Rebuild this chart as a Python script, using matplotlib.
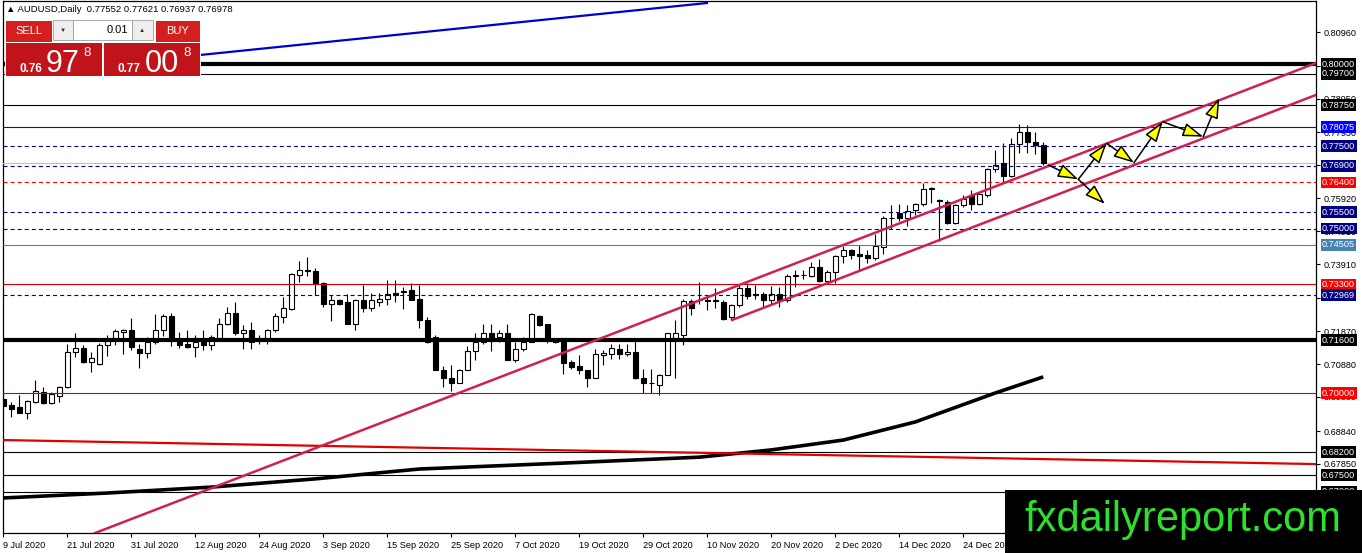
import numpy as np
import matplotlib
matplotlib.use('Agg')
import matplotlib.pyplot as plt
from matplotlib.patches import Rectangle

plt.rcParams['font.family'] = ['Liberation Sans', 'DejaVu Sans']
plt.rcParams['lines.scale_dashes'] = False

# ---- daily AUDUSD candles (bar 0 = 9 Jul 2020) ----
opens = [0.6983, 0.6963, 0.6958, 0.6940, 0.6973, 0.7003, 0.6970, 0.6991, 0.7017, 0.7125,
         0.7138, 0.7095, 0.7088, 0.7147, 0.7163, 0.7184, 0.7193, 0.7133, 0.7122, 0.7156,
         0.7191, 0.7234, 0.7156, 0.7148, 0.7140, 0.7156, 0.7147, 0.7166, 0.7209, 0.7244,
         0.7181, 0.7191, 0.7158, 0.7161, 0.7191, 0.7232, 0.7254, 0.7358, 0.7374, 0.7370,
         0.7335, 0.7272, 0.7284, 0.7277, 0.7211, 0.7282, 0.7257, 0.7277, 0.7287, 0.7304,
         0.7307, 0.7313, 0.7287, 0.7223, 0.7169, 0.7071, 0.7047, 0.7031, 0.7071, 0.7128,
         0.7156, 0.7183, 0.7169, 0.7181, 0.7100, 0.7135, 0.7155, 0.7234, 0.7209, 0.7161,
         0.7166, 0.7095, 0.7082, 0.7071, 0.7047, 0.7116, 0.7118, 0.7135, 0.7118, 0.7125,
         0.7047, 0.7029, 0.7024, 0.7054, 0.7166, 0.7176, 0.7280, 0.7282, 0.7283, 0.7283,
         0.7277, 0.7230, 0.7267, 0.7318, 0.7298, 0.7302, 0.7284, 0.7300, 0.7282, 0.7355,
         0.7358, 0.7355, 0.7384, 0.7341, 0.7368, 0.7416, 0.7436, 0.7424, 0.7418, 0.7409,
         0.7444, 0.7531, 0.7548, 0.7531, 0.7556, 0.7574, 0.7619, 0.7588, 0.7581, 0.7517,
         0.7571, 0.7602, 0.7574, 0.7602, 0.7680, 0.7700, 0.7659, 0.7757, 0.7794, 0.7764,
         0.77552]
highs = [0.6998, 0.6973, 0.6993, 0.6978, 0.7039, 0.7019, 0.7003, 0.7021, 0.7148, 0.7181,
         0.7145, 0.7125, 0.7152, 0.7176, 0.7196, 0.7196, 0.7227, 0.7150, 0.7171, 0.7240,
         0.7240, 0.7244, 0.7186, 0.7191, 0.7176, 0.7191, 0.7176, 0.7227, 0.7262, 0.7277,
         0.7206, 0.7216, 0.7176, 0.7196, 0.7242, 0.7292, 0.7365, 0.7402, 0.7414, 0.7379,
         0.7338, 0.7297, 0.7287, 0.7302, 0.7287, 0.7328, 0.7304, 0.7304, 0.7343, 0.7343,
         0.7323, 0.7335, 0.7328, 0.7231, 0.7176, 0.7082, 0.7085, 0.7074, 0.7142, 0.7181,
         0.7209, 0.7211, 0.7191, 0.7211, 0.7155, 0.7171, 0.7242, 0.7236, 0.7211, 0.7166,
         0.7166, 0.7100, 0.7115, 0.7071, 0.7135, 0.7130, 0.7150, 0.7150, 0.7150, 0.7161,
         0.7074, 0.7074, 0.7057, 0.7181, 0.7221, 0.7287, 0.7287, 0.7338, 0.7298, 0.7318,
         0.7282, 0.7272, 0.7328, 0.7333, 0.7328, 0.7307, 0.7325, 0.7323, 0.7363, 0.7373,
         0.7373, 0.7399, 0.7406, 0.7373, 0.7419, 0.7446, 0.7439, 0.7449, 0.7434, 0.7483,
         0.7538, 0.7571, 0.7576, 0.7571, 0.7578, 0.7637, 0.7627, 0.7590, 0.7586, 0.7576,
         0.7602, 0.7617, 0.7612, 0.7683, 0.7738, 0.7759, 0.7774, 0.7818, 0.7814, 0.7794,
         0.77621]
lows = [0.6953, 0.6927, 0.6938, 0.6922, 0.6970, 0.6968, 0.6966, 0.6973, 0.7014, 0.7110,
        0.7092, 0.7064, 0.7085, 0.7112, 0.7145, 0.7118, 0.7132, 0.7077, 0.7105, 0.7150,
        0.7173, 0.7142, 0.7138, 0.7138, 0.7108, 0.7130, 0.7132, 0.7161, 0.7206, 0.7176,
        0.7135, 0.7135, 0.7148, 0.7148, 0.7186, 0.7213, 0.7252, 0.7338, 0.7355, 0.7297,
        0.7260, 0.7219, 0.7267, 0.7209, 0.7191, 0.7247, 0.7250, 0.7264, 0.7267, 0.7277,
        0.7254, 0.7282, 0.7199, 0.7152, 0.7069, 0.7017, 0.7007, 0.7029, 0.7069, 0.7100,
        0.7148, 0.7128, 0.7156, 0.7100, 0.7095, 0.7128, 0.7155, 0.7204, 0.7151, 0.7151,
        0.7057, 0.7072, 0.7059, 0.7019, 0.7047, 0.7085, 0.7102, 0.7102, 0.7112, 0.7044,
        0.7001, 0.7001, 0.6993, 0.7054, 0.7047, 0.7146, 0.7237, 0.7272, 0.7252, 0.7257,
        0.7223, 0.7226, 0.7262, 0.7287, 0.7287, 0.7262, 0.7267, 0.7262, 0.7277, 0.7323,
        0.7348, 0.7353, 0.7338, 0.7338, 0.7333, 0.7396, 0.7406, 0.7373, 0.7396, 0.7404,
        0.7424, 0.7500, 0.7524, 0.7507, 0.7541, 0.7568, 0.7578, 0.7462, 0.7515, 0.7515,
        0.7566, 0.7556, 0.7571, 0.7597, 0.7673, 0.7642, 0.7657, 0.7728, 0.7728, 0.7726,
        0.76937]
closes = [0.6960, 0.6950, 0.6940, 0.6976, 0.7007, 0.6970, 0.6996, 0.7017, 0.7125, 0.7138,
          0.7095, 0.7105, 0.7147, 0.7161, 0.7188, 0.7193, 0.7140, 0.7123, 0.7156, 0.7191,
          0.7234, 0.7161, 0.7145, 0.7140, 0.7156, 0.7147, 0.7169, 0.7211, 0.7242, 0.7181,
          0.7191, 0.7156, 0.7162, 0.7193, 0.7234, 0.7257, 0.7363, 0.7374, 0.7370, 0.7335,
          0.7272, 0.7282, 0.7272, 0.7211, 0.7282, 0.7257, 0.7282, 0.7287, 0.7300, 0.7299,
          0.7311, 0.7284, 0.7221, 0.7156, 0.7071, 0.7047, 0.7029, 0.7071, 0.7128, 0.7156,
          0.7183, 0.7159, 0.7181, 0.7100, 0.7135, 0.7155, 0.7240, 0.7206, 0.7161, 0.7156,
          0.7092, 0.7080, 0.7069, 0.7047, 0.7118, 0.7121, 0.7138, 0.7118, 0.7124, 0.7047,
          0.7029, 0.7030, 0.7054, 0.7181, 0.7181, 0.7280, 0.7257, 0.7284, 0.7281, 0.7280,
          0.7226, 0.7267, 0.7318, 0.7294, 0.7302, 0.7284, 0.7300, 0.7284, 0.7355, 0.7358,
          0.7358, 0.7384, 0.7340, 0.7368, 0.7416, 0.7436, 0.7419, 0.7416, 0.7409, 0.7446,
          0.7531, 0.7533, 0.7531, 0.7554, 0.7574, 0.7619, 0.7622, 0.7585, 0.7517, 0.7571,
          0.7591, 0.7574, 0.7605, 0.7680, 0.7693, 0.7659, 0.7757, 0.7794, 0.7764, 0.7754,
          0.76978]

# x axis date labels (every 8th bar)
date_bars = [0, 8, 16, 24, 32, 40, 48, 56, 64, 72, 80, 88, 96, 104, 112, 120]
date_labels = ['9 Jul 2020', '21 Jul 2020', '31 Jul 2020', '12 Aug 2020', '24 Aug 2020',
               '3 Sep 2020', '15 Sep 2020', '25 Sep 2020', '7 Oct 2020', '19 Oct 2020',
               '29 Oct 2020', '10 Nov 2020', '20 Nov 2020', '2 Dec 2020', '14 Dec 2020',
               '24 Dec 2020']

# price scale ticks
price_ticks = [0.80960, 0.79950, 0.78950, 0.77930, 0.76920, 0.75920, 0.74910, 0.73910,
               0.72900, 0.71870, 0.70880, 0.69880, 0.68840, 0.67850, 0.66840]

# moving average (black), sampled along the curve
ma_bars = [0, 13, 26, 39, 52, 70, 87, 96, 105, 114, 124, 130]
ma_vals = [0.6681, 0.6696, 0.6714, 0.6739, 0.6769, 0.6787, 0.6805, 0.6827, 0.6857,
           0.6912, 0.7000, 0.7049]

# horizontal levels
levels = [0.80000, 0.79700, 0.78750, 0.78075, 0.77500, 0.76900, 0.76400, 0.75500,
          0.75000, 0.74505, 0.73300, 0.72969, 0.71600, 0.70000, 0.68200, 0.67500, 0.67000]
level_colors = ['black', 'black', 'black', '#0000ff', '#000080', '#000080', '#ff0000',
                '#000080', '#000080', '#4682b4', '#d00000', '#000080', 'black', '#d00000',
                'black', 'black', 'black']
level_box = ['black', 'black', 'black', '#0000ff', '#000080', '#000080', '#ff0000',
             '#000080', '#000080', '#4682b4', '#ff0000', '#000080', 'black', '#ff0000',
             'black', 'black', 'black']
level_dash = [False, False, False, False, True, True, True, True, True, False, False,
              True, False, False, False, False, False]
level_width = [3, 0.8, 0.8, 0.8, 0.8, 0.8, 0.8, 0.8, 0.8, 0.8, 0.8, 0.8, 3, 0.8, 0.8, 0.8, 0.8]
bid = 0.76978

# trend lines (bar, price) endpoints
channel_up_x, channel_up_y = [11.46, 164.1], [0.65745, 0.8003]
channel_lo_x, channel_lo_y = [91.1, 164.1], [0.7222, 0.7906]
blue_x, blue_y = [24.6, 87.96], [0.80274, 0.81854]
red_x, red_y = [0, 164.1], [0.6857, 0.6784]

# projected path arrows
path_x = [130.63, 134.38, 137.93, 141.34, 144.93, 150.0, 152.0]
path_y = [0.76930, 0.76495, 0.77590, 0.77000, 0.78246, 0.77790, 0.78967]
branch_x, branch_y = [134.38, 137.71], [0.76495, 0.75745]

W, H = 1362, 553
fig = plt.figure(figsize=(W / 100, H / 100), dpi=100)
ax = fig.add_axes([3 / W, 1 - 533 / H, (1316 - 3) / W, (533 - 1) / H])
ax.set_xlim(-0.05, 164.1)
ax.set_ylim(0.65745, 0.81915)

# levels
for p, col, dsh, lw in zip(levels, level_colors, level_dash, level_width):
    if dsh:
        ax.axhline(p, color=col, lw=lw, dashes=(2.9, 2.2), zorder=6)
    else:
        ax.axhline(p, color=col, lw=lw, zorder=6)
ax.axhline(bid, color='#c0c0c0', lw=0.8, zorder=3)

# candles
o = np.array(opens); h = np.array(highs); l = np.array(lows); c = np.array(closes)
bars = np.arange(len(o))
ax.vlines(bars, l, h, color='black', lw=0.8, zorder=4)
up = c >= o
lo = np.minimum(o, c)
hh = np.maximum(np.abs(c - o), 0.00015)
ax.bar(bars[up], hh[up], bottom=lo[up], width=0.62, color='white', edgecolor='black',
       lw=0.8, zorder=5)
ax.bar(bars[~up], hh[~up], bottom=lo[~up], width=0.62, color='black', edgecolor='black',
       lw=0.8, zorder=5)

# indicator + trendlines
ax.plot(ma_bars, ma_vals, color='black', lw=2.6, zorder=7, solid_capstyle='butt')
ax.plot(red_x, red_y, color='#e00000', lw=1.6, zorder=7)
ax.plot(channel_up_x, channel_up_y, color='#d0204e', lw=1.8, zorder=7)
ax.plot(channel_lo_x, channel_lo_y, color='#d0204e', lw=1.8, zorder=7)
ax.plot(blue_x, blue_y, color='#0000cc', lw=1.6, zorder=7)

arrow = dict(arrowstyle='-|>,head_length=1.25,head_width=0.42', fc='#ffff00', ec='black',
             lw=1.1, shrinkA=0, shrinkB=0)
for i in range(len(path_x) - 1):
    ax.annotate('', xy=(path_x[i + 1], path_y[i + 1]), xytext=(path_x[i], path_y[i]),
                arrowprops=arrow, zorder=9)
ax.annotate('', xy=(branch_x[1], branch_y[1]), xytext=(branch_x[0], branch_y[0]),
            arrowprops=arrow, zorder=9)

# axes look
for s in ax.spines.values():
    s.set_linewidth(0.9)
ax.yaxis.tick_right()
ax.set_yticks(price_ticks)
ax.set_yticklabels(['%.5f' % v for v in price_ticks])
ax.tick_params(axis='y', direction='out', length=3, width=0.8, pad=2.5, labelsize=6.6)
ax.set_xticks(date_bars)
ax.set_xticklabels(date_labels, ha='left')
ax.tick_params(axis='x', direction='out', length=3, width=0.8, pad=2.5, labelsize=6.6)

# price boxes on the right scale
for p, bc in zip(levels, level_box):
    ax.annotate('%.5f' % p, xy=(1, p), xycoords=ax.get_yaxis_transform(),
                xytext=(4.3, 0), textcoords='offset points', ha='left', va='center',
                fontsize=6.6, color='white', zorder=10, annotation_clip=False,
                bbox=dict(boxstyle='square,pad=0.15', fc=bc, ec='none'))


# ---- one-click trading panel and header (figure pixels) ----
def fx(x):
    return x / W


def fy(y):
    return 1 - y / H


def box(x0, y0, x1, y1, **kw):
    fig.add_artist(Rectangle((fx(x0), fy(y1)), (x1 - x0) / W, (y1 - y0) / H,
                             transform=fig.transFigure, **kw))


fig.text(fx(6), fy(9), '▲ AUDUSD,Daily  0.77552 0.77621 0.76937 0.76978', fontsize=6.8,
         va='center', ha='left')
box(5, 19, 201, 77, fc='white', ec='none')
box(6, 21, 52, 42, fc='#d3201f', ec='none')
box(156, 21, 200, 42, fc='#d3201f', ec='none')
box(53, 20, 73, 40, fc='#eeeeee', ec='#a0a0a0', lw=0.6)
box(73, 20, 132, 40, fc='white', ec='#a0a0a0', lw=0.6)
box(132, 20, 153, 40, fc='#eeeeee', ec='#a0a0a0', lw=0.6)
box(6, 43, 102, 76, fc='#c0141a', ec='none')
box(104, 43, 200, 76, fc='#c0141a', ec='none')
fig.text(fx(29), fy(31), 'SELL', color='white', fontsize=8, ha='center', va='center')
fig.text(fx(178), fy(31), 'BUY', color='white', fontsize=8, ha='center', va='center')
fig.text(fx(63), fy(30), '▼', fontsize=4.5, ha='center', va='center', color='#333333')
fig.text(fx(142), fy(30), '▲', fontsize=4.5, ha='center', va='center', color='#333333')
fig.text(fx(128), fy(30), '0.01', fontsize=8, ha='right', va='center')
fig.text(fx(19), fy(72), '0.76', color='white', fontsize=8.5, weight='bold', ha='left',
         va='baseline')
fig.text(fx(46), fy(72), '97', color='white', fontsize=22, ha='left', va='baseline')
fig.text(fx(87), fy(53), '8', color='white', fontsize=9.5, ha='center', va='center')
fig.text(fx(117), fy(72), '0.77', color='white', fontsize=8.5, weight='bold', ha='left',
         va='baseline')
fig.text(fx(145), fy(72), '00', color='white', fontsize=22, ha='left', va='baseline')
fig.text(fx(187), fy(53), '8', color='white', fontsize=9.5, ha='center', va='center')

# watermark
box(1005, 490, 1362, 553, fc='black', ec='none')
fig.text(fx(1183), fy(520), 'fxdailyreport.com', color='#2ee02e', fontsize=30,
         ha='center', va='center')

fig.savefig('out.png', dpi=100)
